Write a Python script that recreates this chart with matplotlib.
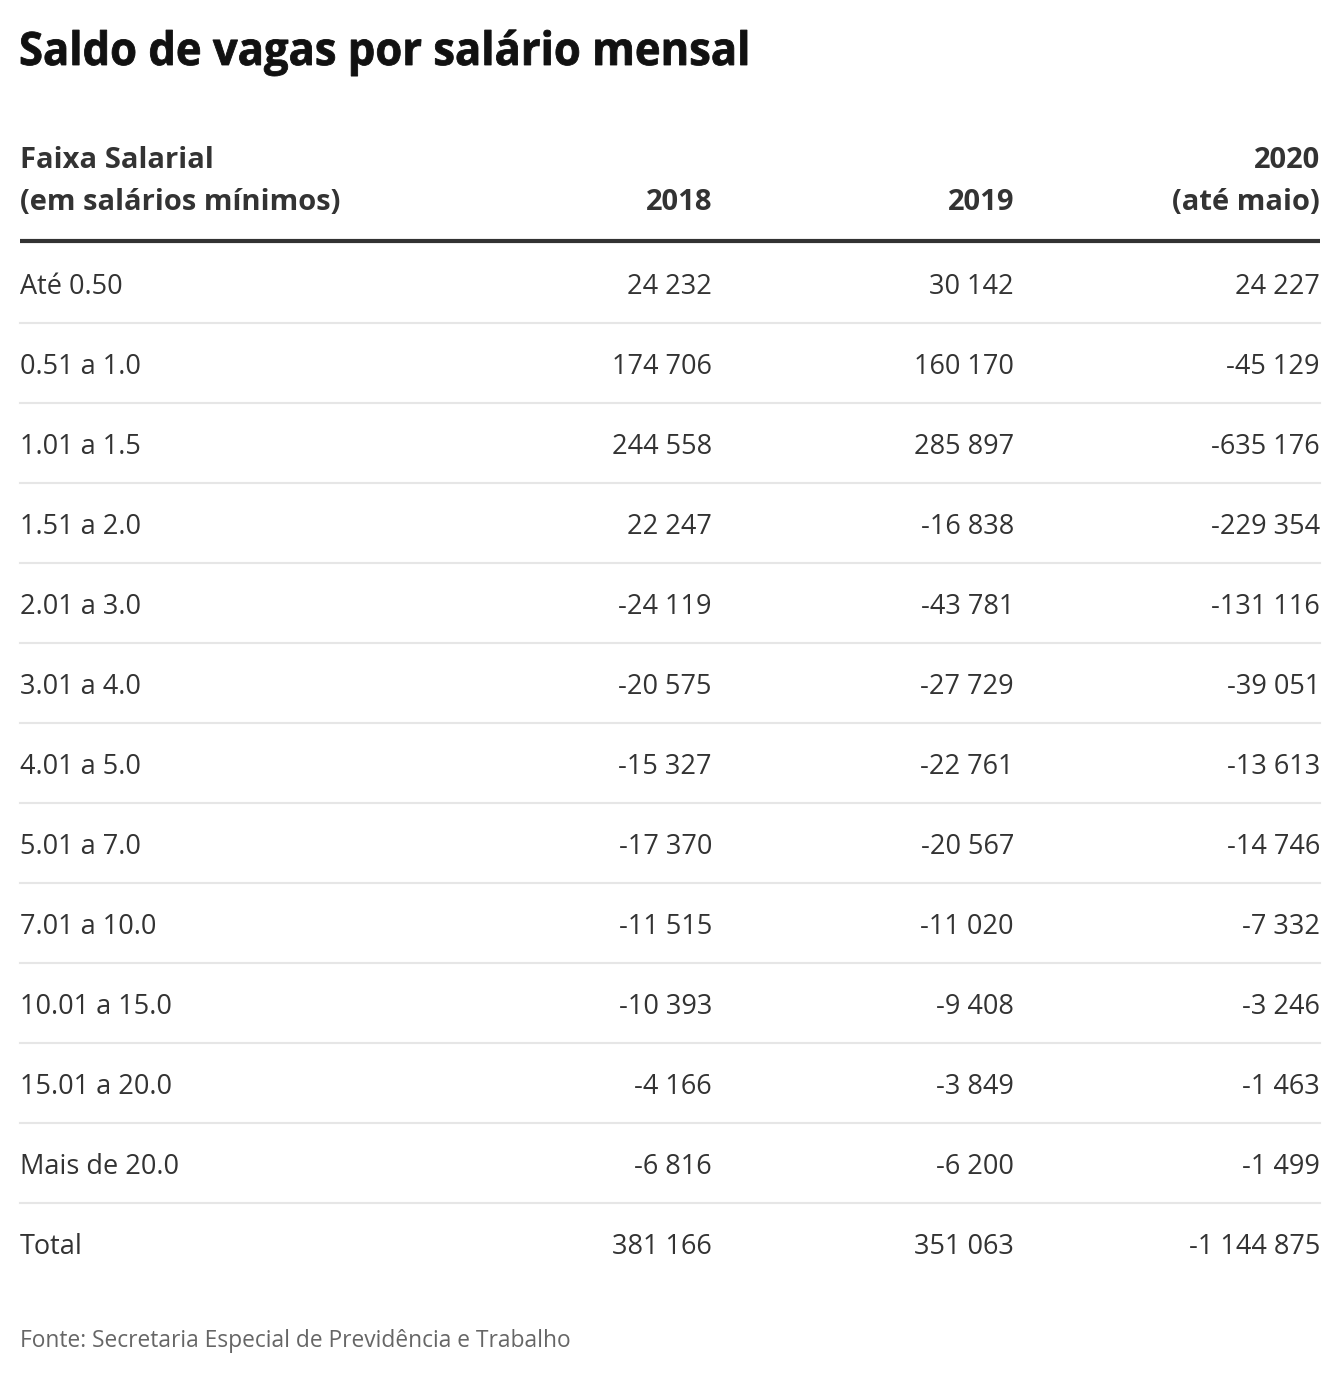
import matplotlib.pyplot as plt
from matplotlib.textpath import TextPath
from matplotlib.patches import PathPatch
from matplotlib.font_manager import FontProperties
from matplotlib.transforms import Affine2D

faixas = ['Até 0.50', '0.51 a 1.0', '1.01 a 1.5', '1.51 a 2.0', '2.01 a 3.0',
          '3.01 a 4.0', '4.01 a 5.0', '5.01 a 7.0', '7.01 a 10.0',
          '10.01 a 15.0', '15.01 a 20.0', 'Mais de 20.0', 'Total']
v2018 = [24232, 174706, 244558, 22247, -24119, -20575, -15327, -17370,
         -11515, -10393, -4166, -6816, 381166]
v2019 = [30142, 160170, 285897, -16838, -43781, -27729, -22761, -20567,
         -11020, -9408, -3849, -6200, 351063]
v2020 = [24227, -45129, -635176, -229354, -131116, -39051, -13613, -14746,
         -7332, -3246, -1463, -1499, -1144875]
col_top = ['', '', '2020']
col_bottom = ['2018', '2019', '(até maio)']


def fmt(n):
    return '{:,}'.format(n).replace(',', ' ')


plt.rcParams['font.family'] = ['Open Sans', 'DejaVu Sans']
W, H = 1340, 1376
fig = plt.figure(figsize=(W / 100, H / 100), dpi=100)
ax = fig.add_axes([0, 0, 1, 1])
ax.set_xlim(0, W)
ax.set_ylim(H, 0)
ax.axis('off')

dark = '#333333'

# title: bold, squeezed a bit to look like the condensed original
title = 'Saldo de vagas por salário mensal'
tp = TextPath((0, 0), title, size=46,
              prop=FontProperties(family='Open Sans', weight='bold'))
bb = tp.get_extents()
sx = (747 - 21) / bb.width
tr = Affine2D().translate(-bb.x0, 0).scale(sx, -1).translate(21, 65) + ax.transData
ax.add_patch(PathPatch(tp, facecolor='#111111', edgecolor='#111111',
                       lw=0.6, transform=tr))

# header
ax.text(20, 160, 'Faixa Salarial', fontsize=21, fontweight='bold',
        color=dark, va='center', ha='left')
ax.text(20, 202, '(em salários mínimos)', fontsize=21, fontweight='bold',
        color=dark, va='center', ha='left')
col_x = [712, 1014, 1320]
for x, t, b in zip(col_x, col_top, col_bottom):
    if t:
        ax.text(x, 160, t, fontsize=21, fontweight='bold', color=dark,
                va='center', ha='right')
    ax.text(x, 202, b, fontsize=21, fontweight='bold', color=dark,
            va='center', ha='right')
ax.plot([20, 1320], [241, 241], color=dark, lw=3, solid_capstyle='butt')

row0, step = 284, 80
for i, f in enumerate(faixas):
    y = row0 + i * step
    ax.text(20, y + 3, f, fontsize=19.5, color=dark, va='center', ha='left')
    for x, vals in zip(col_x, [v2018, v2019, v2020]):
        ax.text(x, y + 3, fmt(vals[i]), fontsize=19.5, color=dark,
                va='center', ha='right')
    if i < len(faixas) - 1:
        ax.plot([20, 1320], [y + 39, y + 39], color='#e6e6e6', lw=1.5)

ax.text(20, 1341, 'Fonte: Secretaria Especial de Previdência e Trabalho',
        fontsize=16.4, color='#666666', va='center', ha='left')

fig.savefig('out.png', dpi=100, facecolor='white')
